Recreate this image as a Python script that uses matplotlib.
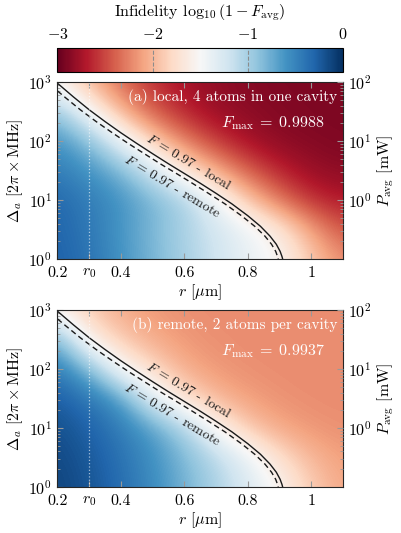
import numpy as np
import matplotlib.pyplot as plt

plt.rcParams.update({
    "font.family": "cmr10",
    "mathtext.fontset": "cm",
    "axes.formatter.use_mathtext": True,
    "font.size": 11.5,
    "axes.unicode_minus": True,
})

# grid of the infidelity map: log10(1 - F_avg)
r_grid = [0.2, 0.3, 0.4, 0.5, 0.6, 0.7, 0.8, 0.9, 1.0, 1.1]
log_delta_grid = [0.0, 0.5, 1.0, 1.5, 2.0, 2.5, 3.0]

# (a) local, 4 atoms in one cavity  (rows follow log_delta_grid)
infid_local = [
    [-0.28, -0.38, -0.60, -0.80, -1.00, -1.20, -1.40, -1.52, -1.90, -2.20],
    [-0.30, -0.42, -0.62, -0.82, -1.02, -1.22, -1.40, -1.65, -2.10, -2.45],
    [-0.32, -0.45, -0.60, -0.80, -1.00, -1.42, -1.90, -2.30, -2.60, -2.70],
    [-0.45, -0.60, -0.80, -1.20, -1.68, -2.05, -2.40, -2.65, -2.80, -2.85],
    [-0.60, -0.85, -1.35, -1.85, -2.25, -2.55, -2.75, -2.85, -2.88, -2.90],
    [-0.90, -1.45, -2.00, -2.40, -2.65, -2.80, -2.85, -2.88, -2.90, -2.90],
    [-1.55, -2.00, -2.35, -2.60, -2.75, -2.83, -2.87, -2.90, -2.90, -2.90],
]

# (b) remote, 2 atoms per cavity
infid_remote = [
    [-0.12, -0.20, -0.35, -0.55, -0.78, -1.02, -1.28, -1.53, -1.88, -2.08],
    [-0.14, -0.23, -0.38, -0.58, -0.82, -1.08, -1.38, -1.75, -2.00, -2.12],
    [-0.18, -0.28, -0.45, -0.68, -1.00, -1.52, -1.90, -2.08, -2.16, -2.19],
    [-0.25, -0.40, -0.65, -1.30, -1.75, -2.00, -2.12, -2.18, -2.20, -2.20],
    [-0.45, -0.80, -1.48, -1.80, -2.05, -2.15, -2.19, -2.20, -2.20, -2.20],
    [-0.75, -1.60, -1.90, -2.05, -2.15, -2.19, -2.20, -2.20, -2.20, -2.20],
    [-1.60, -1.90, -2.05, -2.15, -2.19, -2.20, -2.20, -2.20, -2.20, -2.20],
]

# F = 0.97 contour lines
r_line_local = [0.2, 0.25, 0.3, 0.35, 0.4, 0.45, 0.5, 0.55, 0.6, 0.65, 0.7,
                0.75, 0.8, 0.84, 0.87, 0.89, 0.902, 0.908, 0.91]
delta_line_local = [955, 562, 339, 214, 138, 91.2, 61.0, 41.2, 28.2, 19.3,
                    13.0, 8.61, 5.43, 3.59, 2.45, 1.78, 1.35, 1.10, 1.0]
r_line_remote = [0.2, 0.222, 0.272, 0.322, 0.373, 0.423, 0.474, 0.524, 0.575,
                 0.625, 0.676, 0.728, 0.78, 0.822, 0.854, 0.875, 0.888, 0.894,
                 0.896]
delta_line_remote = [708, 562, 339, 214, 138, 91.2, 61.0, 41.2, 28.2, 19.3,
                     13.0, 8.61, 5.43, 3.59, 2.45, 1.78, 1.35, 1.10, 1.0]

r0 = 0.3
panels = [
    (infid_local, "(a) local, 4 atoms in one cavity", 0.9988),
    (infid_remote, "(b) remote, 2 atoms per cavity", 0.9937),
]

fig = plt.figure(figsize=(4.02, 5.33), dpi=100)
left, width, height = 0.143, 0.710, 0.332
bottoms = [0.514, 0.0863]

dr = r_grid[1] - r_grid[0]
dl = log_delta_grid[1] - log_delta_grid[0]
extent = [r_grid[0] - dr / 2, r_grid[-1] + dr / 2,
          log_delta_grid[0] - dl / 2, log_delta_grid[-1] + dl / 2]

for (field, title, fmax), bottom in zip(panels, bottoms):
    # map drawn in log10(Delta) coordinates underneath the log axes
    axi = fig.add_axes([left, bottom, width, height], zorder=0)
    img = axi.imshow(np.array(field), cmap="RdBu", vmin=-3, vmax=0,
                     origin="lower", extent=extent, aspect="auto",
                     interpolation="bicubic")
    axi.set_xlim(0.2, 1.1)
    axi.set_ylim(log_delta_grid[0], log_delta_grid[-1])
    axi.axis("off")

    ax = fig.add_axes([left, bottom, width, height], zorder=1)
    ax.patch.set_visible(False)
    ax.set_yscale("log")
    ax.set_xlim(0.2, 1.1)
    ax.set_ylim(1, 1000)
    ax.plot(r_line_local, delta_line_local, color="0.1", lw=1.0)
    ax.plot(r_line_remote, delta_line_remote, color="0.1", lw=1.0, ls=(0, (4, 2.5)))
    ax.axvline(r0, color="white", ls=":", lw=0.9, alpha=0.6)

    ax.text(0.612, 44, r"$F\,=\,0.97$ - local", rotation=-31, fontsize=10,
            ha="center", va="center", color="0.1")
    ax.text(0.562, 17, r"$F\,=\,0.97$ - remote", rotation=-31, fontsize=10,
            ha="center", va="center", color="0.1")
    ax.text(0.98, 0.915, title, transform=ax.transAxes, ha="right", va="center",
            color="white", fontsize=11)
    ax.text(0.937, 0.77, r"$F_{\rm max}\;=\;%.4f$" % fmax, transform=ax.transAxes,
            ha="right", va="center", color="white", fontsize=11.5)

    ax.set_xticks([0.2, 0.3, 0.4, 0.6, 0.8, 1.0])
    ax.set_xticklabels(["0.2", r"$r_0$", "0.4", "0.6", "0.8", "1"])
    ax.set_yticks([1, 10, 100, 1000])
    ax.tick_params(which="both", direction="in", top=True, right=False,
                   color="0.6")
    ax.tick_params(which="major", length=4)
    ax.tick_params(which="minor", length=2.2)
    ax.tick_params(axis="x", pad=5)
    ax.tick_params(axis="y", pad=4)
    ax.set_xlabel(r"$r$ [$\mu$m]", labelpad=2)
    ax.set_ylabel(r"$\Delta_a$ [$2\pi\times$MHz]", labelpad=2)
    for s in ax.spines.values():
        s.set_color("0.15")
        s.set_linewidth(0.8)

    ax2 = ax.twinx()
    ax2.set_yscale("log")
    ax2.set_ylim(0.1, 100)
    ax2.set_yticks([1, 10, 100])
    ax2.tick_params(which="both", direction="in", color="0.6")
    ax2.tick_params(which="major", length=4, pad=4)
    ax2.tick_params(which="minor", length=2.2)
    ax2.set_ylabel(r"$P_{\rm avg}$ [mW]", labelpad=2)
    for s in ax2.spines.values():
        s.set_visible(False)

cax = fig.add_axes([left, 0.865, width, 0.045])
cb = fig.colorbar(img, cax=cax, orientation="horizontal")
cax.xaxis.set_ticks_position("top")
cax.xaxis.set_label_position("top")
cb.set_ticks([-3, -2, -1, 0])
cb.set_ticklabels([r"$-3$", r"$-2$", r"$-1$", r"$0$"])
cax.tick_params(length=0, pad=4)
for v in [-2, -1]:
    cax.axvline(v, color="0.55", ls="--", lw=0.8)
cb.outline.set_linewidth(0.8)
cb.set_label(r"Infidelity $\log_{10}(1-F_{\rm avg})$", labelpad=8)

fig.savefig("out.png", dpi=100)
